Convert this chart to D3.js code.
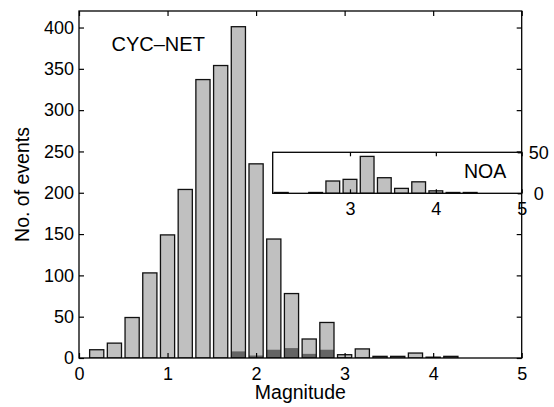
<!DOCTYPE html>
<html>
<head>
<meta charset="utf-8">
<script src="https://cdn.jsdelivr.net/npm/d3@7/dist/d3.min.js"></script>
<style>
  html, body { margin: 0; padding: 0; background: #fff; }
  svg { display: block; }
  text { font-family: "Liberation Sans", Arial, Helvetica, sans-serif; fill: #000; }
</style>
</head>
<body>
<svg id="chart" width="554" height="407"></svg>
<script>
// ---- data ----
const mainBins   = [0.2,0.4,0.6,0.8,1.0,1.2,1.4,1.6,1.8,2.0,2.2,2.4,2.6,2.8,3.0,3.2,3.4,3.6,3.8,4.0,4.2];
const mainCounts = [10,18,49,103,149,204,337,354,401,235,144,78,23,43,4,11,2,2,6,1,2];
const darkCounts = [0,0,0,0,0,0,0,0,8,3,10,12,5,10,1,0,0,0,0,0,0];
const insetBins   = [2.2,2.4,2.6,2.8,3.0,3.2,3.4,3.6,3.8,4.0,4.2,4.4];
const insetCounts = [1,0,1,15,17,45,19,6,14,3,1,1];
const xTicks = [0,1,2,3,4,5];
const yTicks = [0,50,100,150,200,250,300,350,400];
const insetXTicks = [3,4,5];
const insetYTicks = [0,50];
const mainLabel = "CYC\u2013NET";
const insetLabel = "NOA";
const xTitle = "Magnitude";
const yTitle = "No. of events";

// ---- layout ----
const svg = d3.select("#chart");
const L = 79, R = 521.7, T = 11, B = 358;
const binW = 0.16;
const lightFill = "#c0c0c0", darkFill = "#646464";
const fontTick = 18, fontLabel = 19.5;

const x = d3.scaleLinear().domain([0, 5]).range([L, R]);
const y = d3.scaleLinear().domain([0, 420]).range([B, T]);

svg.append("defs").append("clipPath").attr("id", "mainClip")
  .append("rect").attr("x", L).attr("y", T).attr("width", R - L).attr("height", B - T);

const main = svg.append("g").attr("clip-path", "url(#mainClip)");
const data = mainBins.map((b, i) => ({ b, v: mainCounts[i], d: darkCounts[i] }));

main.selectAll("rect.light").data(data).join("rect")
  .attr("class", "light")
  .attr("x", d => x(d.b - binW / 2))
  .attr("width", d => x(d.b + binW / 2) - x(d.b - binW / 2))
  .attr("y", d => y(d.v))
  .attr("height", d => y(0) - y(d.v))
  .attr("fill", lightFill);

main.selectAll("rect.dark").data(data.filter(d => d.d > 0)).join("rect")
  .attr("class", "dark")
  .attr("x", d => x(d.b - binW / 2))
  .attr("width", d => x(d.b + binW / 2) - x(d.b - binW / 2))
  .attr("y", d => y(d.d))
  .attr("height", d => y(0) - y(d.d))
  .attr("fill", darkFill);

main.selectAll("rect.outline").data(data).join("rect")
  .attr("class", "outline")
  .attr("x", d => x(d.b - binW / 2))
  .attr("width", d => x(d.b + binW / 2) - x(d.b - binW / 2))
  .attr("y", d => y(d.v))
  .attr("height", d => y(0) - y(d.v))
  .attr("fill", "none")
  .attr("stroke", "#111")
  .attr("stroke-width", 1.3);

function styleAxis(g, fs) {
  g.select(".domain").remove();
  g.selectAll("line").attr("stroke", "#000").attr("stroke-width", 1.2);
  g.selectAll("text").attr("font-size", fs).attr("font-family", null).attr("fill", "#000");
}

// main axes
svg.append("g").attr("transform", `translate(0,${B})`)
  .call(d3.axisBottom(x).tickValues(xTicks).tickFormat(d3.format("d")).tickSizeInner(-5).tickSizeOuter(0).tickPadding(9))
  .call(g => styleAxis(g, fontTick));
svg.append("g").attr("transform", `translate(0,${T})`)
  .call(d3.axisTop(x).tickValues(xTicks).tickFormat("").tickSizeInner(-5).tickSizeOuter(0))
  .call(g => styleAxis(g, fontTick));
svg.append("g").attr("transform", `translate(${L},0)`)
  .call(d3.axisLeft(y).tickValues(yTicks).tickFormat(d3.format("d")).tickSizeInner(-5).tickSizeOuter(0).tickPadding(5))
  .call(g => styleAxis(g, fontTick));
svg.append("g").attr("transform", `translate(${R},0)`)
  .call(d3.axisRight(y).tickValues(yTicks).tickFormat("").tickSizeInner(-5).tickSizeOuter(0))
  .call(g => styleAxis(g, fontTick));

svg.append("rect").attr("x", L).attr("y", T).attr("width", R - L).attr("height", B - T)
  .attr("fill", "none").attr("stroke", "#000").attr("stroke-width", 1.3);

// labels
svg.append("text").attr("x", (L + R) / 2).attr("y", 399)
  .attr("text-anchor", "middle").attr("font-size", fontLabel).text(xTitle);
svg.append("text").attr("transform", `translate(29,${(T + B) / 2}) rotate(-90)`)
  .attr("text-anchor", "middle").attr("font-size", fontLabel).text(yTitle);
svg.append("text").attr("x", 111.5).attr("y", 51)
  .attr("font-size", 20).text(mainLabel);

// ---- inset ----
const iL = 272.7, iR = R, iT = 152.3, iB = 193.3;
const xi = d3.scaleLinear().domain([2.1, 5]).range([iL, iR]);
const yi = d3.scaleLinear().domain([0, 50]).range([iB, iT]);

svg.append("rect").attr("x", iL).attr("y", iT).attr("width", iR - iL).attr("height", iB - iT)
  .attr("fill", "#fff");

svg.select("defs").append("clipPath").attr("id", "insetClip")
  .append("rect").attr("x", iL).attr("y", iT).attr("width", iR - iL).attr("height", iB - iT);

const idata = insetBins.map((b, i) => ({ b, v: insetCounts[i] })).filter(d => d.v > 0);
svg.append("g").attr("clip-path", "url(#insetClip)")
  .selectAll("rect").data(idata).join("rect")
  .attr("x", d => xi(d.b - binW / 2))
  .attr("width", d => xi(d.b + binW / 2) - xi(d.b - binW / 2))
  .attr("y", d => yi(d.v))
  .attr("height", d => yi(0) - yi(d.v))
  .attr("fill", lightFill)
  .attr("stroke", "#111")
  .attr("stroke-width", 1.3);

svg.append("g").attr("transform", `translate(0,${iB})`)
  .call(d3.axisBottom(xi).tickValues(insetXTicks).tickFormat(d3.format("d")).tickSizeInner(-4).tickSizeOuter(0).tickPadding(9))
  .call(g => styleAxis(g, fontTick));
svg.append("g").attr("transform", `translate(0,${iT})`)
  .call(d3.axisTop(xi).tickValues(insetXTicks).tickFormat("").tickSizeInner(-4).tickSizeOuter(0))
  .call(g => styleAxis(g, fontTick));
svg.append("g").attr("transform", `translate(${iR},0)`)
  .call(d3.axisRight(yi).tickValues(insetYTicks).tickFormat(d3.format("d")).tickSizeInner(-4).tickSizeOuter(0).tickPadding(17))
  .call(g => styleAxis(g, fontTick))
  .call(g => g.selectAll("text").attr("text-anchor", "middle"));

svg.append("rect").attr("x", iL).attr("y", iT).attr("width", iR - iL).attr("height", iB - iT)
  .attr("fill", "none").attr("stroke", "#000").attr("stroke-width", 1.3);

svg.append("text").attr("x", 464).attr("y", 177.5)
  .attr("font-size", fontLabel).text(insetLabel);
</script>
</body>
</html>
